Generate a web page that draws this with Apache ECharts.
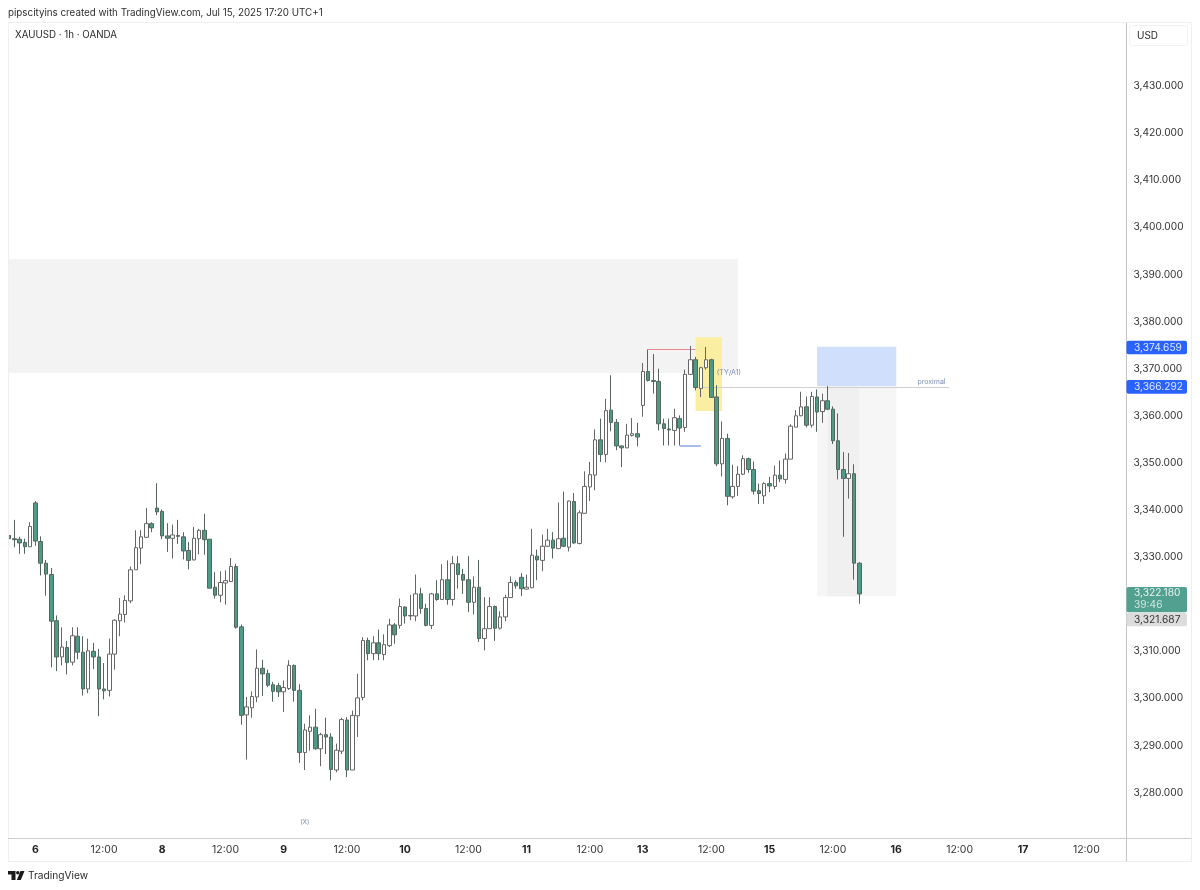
<!DOCTYPE html>
<html>
<head>
<meta charset="utf-8">
<title>XAUUSD 1h</title>
<script src="https://cdn.jsdelivr.net/npm/echarts@6/dist/echarts.min.js"></script>
<style>
  html, body { margin: 0; padding: 0; background: #fff; }
  #chart { width: 1200px; height: 890px; }
</style>
</head>
<body>
<div id="chart"></div>
<script>
// 1h candles, oldest first
const opens = [
  3334.6, 3333.9, 3333.8, 3333.1, 3332.2, 3341.5, 3333.3, 3328.7, 3326.3, 3316.5,
  3308.8, 3310.8, 3307.7, 3313.2, 3309.8, 3302.0, 3310.0, 3308.8, 3302.0, 3301.7,
  3309.4, 3316.5, 3317.8, 3320.7, 3327.3, 3331.9, 3334.2, 3337.1, 3340.4, 3339.7,
  3334.5, 3334.0, 3334.6, 3334.3, 3331.4, 3329.4, 3333.9, 3335.7, 3333.8, 3323.6,
  3321.9, 3324.5, 3324.8, 3328.0, 3315.2, 3296.5, 3298.0, 3300.3, 3306.4, 3305.3,
  3302.9, 3302.7, 3301.4, 3302.1, 3307.0, 3301.7, 3288.5, 3293.0, 3293.9, 3289.3,
  3292.3, 3291.8, 3284.8, 3288.8, 3295.4, 3284.8, 3296.3, 3300.2, 3312.3, 3309.5,
  3311.8, 3309.3, 3311.2, 3315.6, 3315.5, 3319.4, 3317.5, 3317.5, 3322.2, 3319.1,
  3315.5, 3322.2, 3321.0, 3325.2, 3321.0, 3328.6, 3326.3, 3325.2, 3320.4, 3323.6,
  3312.7, 3314.8, 3319.5, 3314.9, 3317.3, 3321.4, 3324.6, 3325.7, 3323.2, 3323.5,
  3330.2, 3329.3, 3332.3, 3333.6, 3331.8, 3334.0, 3332.1, 3341.8, 3332.9, 3339.3,
  3344.9, 3347.4, 3354.9, 3351.8, 3361.2, 3358.6, 3353.6, 3353.2, 3355.8, 3356.2,
  3362.2, 3369.4, 3367.5, 3367.3, 3358.3, 3357.2, 3356.9, 3359.4, 3357.5, 3368.8,
  3371.9, 3365.8, 3370.2, 3371.9, 3364.0, 3349.8, 3355.2, 3342.8, 3345.0, 3347.6,
  3350.9, 3348.6, 3344.1, 3343.0, 3345.6, 3345.0, 3347.4, 3346.5, 3350.8, 3357.6,
  3360.0, 3361.9, 3358.0, 3364.0, 3360.9, 3363.2, 3361.4, 3354.7, 3348.6, 3346.7,
  3347.7, 3328.7
];
const closes = [
  3333.9, 3333.7, 3333.0, 3332.2, 3336.5, 3333.4, 3328.7, 3326.4, 3316.4, 3308.8,
  3310.9, 3307.6, 3313.3, 3309.8, 3302.0, 3310.1, 3308.8, 3302.0, 3301.6, 3309.4,
  3316.6, 3317.9, 3320.8, 3327.3, 3332.0, 3334.3, 3337.1, 3336.2, 3339.6, 3334.5,
  3334.0, 3334.7, 3334.4, 3331.3, 3329.3, 3334.0, 3335.7, 3333.7, 3323.4, 3321.9,
  3324.6, 3325.0, 3328.0, 3315.1, 3296.4, 3298.2, 3300.4, 3306.4, 3305.2, 3302.8,
  3301.5, 3301.4, 3302.3, 3307.0, 3301.7, 3288.5, 3293.3, 3293.9, 3289.3, 3292.3,
  3291.8, 3284.9, 3289.0, 3295.5, 3284.8, 3296.4, 3300.1, 3312.3, 3309.5, 3311.8,
  3309.5, 3311.4, 3315.6, 3313.5, 3319.5, 3317.5, 3317.6, 3322.2, 3319.1, 3315.5,
  3322.2, 3321.0, 3325.2, 3321.0, 3328.6, 3326.3, 3325.1, 3320.4, 3323.6, 3312.7,
  3314.8, 3319.5, 3314.9, 3317.3, 3321.4, 3324.6, 3323.9, 3323.3, 3323.6, 3330.4,
  3329.4, 3332.3, 3333.6, 3331.9, 3333.9, 3332.3, 3341.9, 3333.0, 3339.4, 3345.0,
  3347.5, 3354.9, 3351.8, 3361.1, 3358.6, 3353.6, 3353.2, 3355.9, 3356.2, 3355.5,
  3369.4, 3367.5, 3367.3, 3358.3, 3357.3, 3357.0, 3359.6, 3357.4, 3368.8, 3371.9,
  3366.0, 3370.2, 3371.9, 3363.9, 3349.8, 3355.2, 3342.9, 3345.0, 3347.6, 3350.9,
  3348.6, 3344.0, 3343.5, 3345.6, 3345.1, 3347.4, 3346.6, 3350.8, 3357.8, 3360.0,
  3361.9, 3358.0, 3364.1, 3360.8, 3363.2, 3361.4, 3354.7, 3348.6, 3346.7, 3347.7,
  3328.7, 3322.18
];
const lows = [
  3333.6, 3332.1, 3330.7, 3330.7, 3332.2, 3332.4, 3326.1, 3321.8, 3306.6, 3305.8,
  3307.0, 3305.1, 3307.0, 3308.3, 3300.6, 3301.1, 3306.2, 3296.2, 3299.8, 3300.4,
  3306.1, 3313.2, 3316.1, 3320.2, 3327.3, 3328.5, 3334.1, 3335.3, 3338.9, 3333.8,
  3331.1, 3329.7, 3332.8, 3329.5, 3327.4, 3329.3, 3330.6, 3330.5, 3323.4, 3321.2,
  3320.4, 3319.9, 3324.7, 3314.8, 3294.4, 3287.0, 3295.9, 3299.2, 3300.5, 3302.4,
  3299.3, 3300.3, 3297.1, 3301.8, 3299.3, 3286.3, 3284.8, 3288.9, 3289.1, 3285.6,
  3288.2, 3282.6, 3284.3, 3288.2, 3283.3, 3284.8, 3291.8, 3299.6, 3308.1, 3308.1,
  3308.1, 3308.1, 3310.9, 3311.6, 3314.8, 3315.9, 3316.6, 3316.4, 3318.0, 3315.3,
  3314.7, 3320.7, 3321.0, 3319.9, 3319.7, 3323.3, 3322.2, 3318.3, 3317.8, 3312.0,
  3310.2, 3314.8, 3312.2, 3314.6, 3316.4, 3321.3, 3323.3, 3321.7, 3323.1, 3323.4,
  3325.1, 3327.0, 3332.1, 3329.7, 3331.8, 3332.1, 3331.2, 3332.8, 3332.7, 3339.3,
  3341.9, 3344.2, 3350.2, 3350.1, 3356.7, 3352.7, 3349.1, 3353.1, 3355.6, 3353.5,
  3359.8, 3367.3, 3364.7, 3356.9, 3353.7, 3353.7, 3353.7, 3353.7, 3356.6, 3368.7,
  3365.4, 3364.0, 3369.8, 3363.8, 3349.3, 3347.1, 3341.0, 3342.4, 3343.0, 3347.4,
  3347.9, 3343.3, 3341.3, 3341.3, 3343.8, 3344.4, 3345.9, 3345.6, 3350.8, 3357.6,
  3359.9, 3357.5, 3357.5, 3356.6, 3358.5, 3361.2, 3354.0, 3346.5, 3334.3, 3342.4,
  3325.2, 3320.1
];
const highs = [
  3334.7, 3337.9, 3334.3, 3333.9, 3337.4, 3341.9, 3334.4, 3329.4, 3327.7, 3317.6,
  3315.1, 3312.2, 3315.1, 3315.1, 3313.2, 3312.7, 3311.8, 3310.5, 3307.5, 3312.7,
  3316.8, 3321.3, 3321.9, 3328.0, 3335.7, 3335.7, 3340.4, 3337.4, 3345.7, 3340.1,
  3337.2, 3336.9, 3337.9, 3335.3, 3333.2, 3336.4, 3336.0, 3339.2, 3333.8, 3326.8,
  3327.0, 3327.2, 3329.8, 3328.6, 3315.7, 3300.3, 3301.5, 3310.4, 3308.2, 3306.1,
  3303.5, 3303.3, 3303.8, 3308.1, 3307.2, 3303.0, 3294.6, 3296.4, 3297.8, 3292.7,
  3295.9, 3292.6, 3290.4, 3295.9, 3296.0, 3297.4, 3305.2, 3313.0, 3312.9, 3313.2,
  3314.6, 3313.6, 3316.9, 3316.0, 3321.2, 3319.5, 3322.0, 3326.3, 3323.5, 3320.1,
  3322.4, 3325.1, 3328.5, 3329.3, 3330.2, 3330.2, 3327.5, 3330.2, 3325.9, 3329.4,
  3321.5, 3321.5, 3319.7, 3318.5, 3322.0, 3325.9, 3325.1, 3326.6, 3326.3, 3336.0,
  3331.6, 3334.8, 3336.0, 3335.3, 3341.6, 3343.9, 3342.0, 3343.6, 3339.9, 3348.2,
  3350.2, 3357.1, 3359.4, 3363.6, 3368.6, 3359.3, 3353.7, 3358.3, 3359.5, 3358.5,
  3371.2, 3374.1, 3373.1, 3370.0, 3359.4, 3359.4, 3361.5, 3360.1, 3369.8, 3374.8,
  3372.5, 3370.4, 3374.6, 3372.1, 3366.5, 3358.8, 3356.2, 3349.6, 3349.3, 3351.6,
  3351.1, 3350.3, 3345.6, 3345.9, 3347.0, 3349.4, 3350.5, 3352.0, 3358.2, 3361.2,
  3365.1, 3364.1, 3365.1, 3365.6, 3364.7, 3366.3, 3362.0, 3360.5, 3352.3, 3352.1,
  3349.7, 3328.9
];

// bottom scale: slot index of each label
const timeSlots = [5, 18, 29, 41, 52, 64, 75, 87, 98, 110, 120, 133, 144, 156, 168, 180, 192, 204];
const timeLabels = ['6', '12:00', '8', '12:00', '9', '12:00', '10', '12:00', '11', '12:00', '13', '12:00', '15', '12:00', '16', '12:00', '17', '12:00'];
const slotCount = 212;

const priceTicks = [3280, 3290, 3300, 3310, 3320, 3330, 3340, 3350, 3360, 3370, 3380, 3390, 3400, 3410, 3420, 3430];

// drawings on the chart
const supplyZone = [3393.3, 3369.1, 138];
const yellowBox = [130, 135, 3376.7, 3361.0];
const blueBox = [153, 168, 3374.659, 3366.292];
const stopBox = [153, 168, 3366.292, 3321.687];
const stopBoxInner = [155, 161, 3366.292, 3321.687];
const redLine = [121, 130, 3374.1];
const blueLine = [127, 131, 3353.6];
const proximalLine = [130, 178, 3366.1];
const notes = [
  ['(TY/A1)', 134, 3369.2],
  ['proximal', 172, 3367.2],
  ['(X)', 56, 3273.8]
];

const priceTags = [
  { value: 3374.659, text: '3,374.659', bg: '#2962ff', color: '#dfe8ff' },
  { value: 3366.292, text: '3,366.292', bg: '#2962ff', color: '#dfe8ff' }
];
const lastPrice = 3322.18;
const countdown = '39:46';
const bidPrice = 3321.687;

const uiFont = 'Inter, "Liberation Sans", sans-serif';
const green = '#4f9a87';

const xData = [];
for (let i = 0; i < slotCount; i++) {
  const k = timeSlots.indexOf(i);
  xData.push(k >= 0 ? timeLabels[k] : '');
}
const candles = opens.map((o, i) => [o, closes[i], lows[i], highs[i]]);

function fmtPrice(v) {
  return v.toLocaleString('en-US', { minimumFractionDigits: 3, maximumFractionDigits: 3 });
}

function hLine(seg, color, width) {
  return [
    { xAxis: seg[0], yAxis: seg[2], lineStyle: { color: color, width: width || 1, type: 'solid' } },
    { xAxis: seg[1], yAxis: seg[2] }
  ];
}

function box(b, color) {
  return [
    { xAxis: b[0], yAxis: b[2], itemStyle: { color: color } },
    { xAxis: b[1], yAxis: b[3] }
  ];
}

const chart = echarts.init(document.getElementById('chart'), null, { renderer: 'canvas' });

chart.setOption({
  animation: false,
  backgroundColor: '#fff',
  title: [
    {
      text: 'pipscityins created with TradingView.com, Jul 15, 2025 17:20 UTC+1',
      left: 8, top: 8, padding: 0,
      textStyle: { fontFamily: uiFont, fontSize: 9.8, fontWeight: 'normal', color: '#2e2e2e' }
    },
    {
      text: 'XAUUSD · 1h · OANDA',
      left: 15, top: 30, padding: 0,
      textStyle: { fontFamily: uiFont, fontSize: 9.75, fontWeight: 'normal', color: '#2a2a2a' }
    },
    {
      text: 'TradingView',
      left: 28, top: 871, padding: 0,
      textStyle: { fontFamily: uiFont, fontSize: 10.2, fontWeight: 'normal', color: '#2a2a2a' }
    }
  ],
  grid: { left: 6.36, right: 74, top: 22.5, bottom: 52 },
  xAxis: {
    type: 'category',
    data: xData,
    boundaryGap: true,
    axisLine: { lineStyle: { color: '#cccccc' } },
    axisTick: { show: false },
    splitLine: { show: false },
    axisLabel: {
      interval: (i, v) => v !== '',
      hideOverlap: false,
      margin: 6,
      color: '#333',
      fontFamily: uiFont,
      fontSize: 10.5,
      formatter: v => (v.indexOf(':') >= 0 ? v : '{d|' + v + '}'),
      rich: { d: { fontFamily: uiFont, fontSize: 10.5, fontWeight: 'bold', color: '#222' } }
    }
  },
  yAxis: {
    type: 'value',
    position: 'right',
    min: 3270.36,
    max: 3443.5,
    scale: true,
    axisLine: { show: true, lineStyle: { color: '#c4c4c4' } },
    axisTick: { show: false },
    splitLine: { show: false },
    axisLabel: {
      customValues: priceTicks,
      margin: 7.5,
      color: '#333',
      fontFamily: uiFont,
      fontSize: 10.2,
      formatter: v => fmtPrice(v)
    }
  },
  series: [
    {
      type: 'candlestick',
      data: candles,
      barWidth: 4,
      clip: true,
      itemStyle: {
        color: '#ffffff',
        color0: green,
        borderColor: '#666666',
        borderColor0: '#55665f',
        borderColorDoji: '#444444',
        borderWidth: 1
      },
      markArea: {
        silent: true,
        z: 1,
        label: { show: false },
        emphasis: { disabled: true },
        data: [
          [
            { yAxis: supplyZone[0], itemStyle: { color: '#f3f3f3' } },
            { xAxis: supplyZone[2], yAxis: supplyZone[1] }
          ],
          box(yellowBox, '#faeea3'),
          box(blueBox, '#d0dffb'),
          box(stopBox, '#f6f6f6'),
          box(stopBoxInner, '#f0f0f0')
        ]
      },
      markLine: {
        silent: true,
        z: 1,
        symbol: 'none',
        label: { show: false },
        emphasis: { disabled: true },
        data: [
          hLine(redLine, '#e88a94'),
          hLine(blueLine, '#8ba6e4', 1.5),
          hLine(proximalLine, '#cfcfcf')
        ]
      },
      markPoint: {
        silent: true,
        symbol: 'circle',
        symbolSize: 0,
        data: notes.map(n => ({
          name: n[0],
          coord: [n[1], n[2]],
          label: {
            show: true,
            formatter: n[0],
            position: n[0] === '(X)' ? 'inside' : 'right',
            distance: 0,
            color: '#7d8fb3',
            fontFamily: uiFont,
            fontSize: n[0] === '(X)' ? 6.5 : 7
          }
        }))
      }
    }
  ]
});

// frame, scale tags and the logo go on top of the plot
const py = v => chart.convertToPixel({ yAxisIndex: 0 }, v);

function frameLine(x1, y1, x2, y2, color) {
  return { type: 'line', silent: true, z: 20, shape: { x1, y1, x2, y2 }, style: { stroke: color, lineWidth: 1 } };
}

function tag(y, h, bg, z) {
  return { type: 'rect', silent: true, z: z, shape: { x: 1126.5, y: y, width: 60.5, height: h, r: 2 }, style: { fill: bg } };
}

function tagText(text, cy, color, x, size) {
  return {
    type: 'text', silent: true, z: 32, x: x || 1134, y: cy,
    style: { text: text, fill: color, font: (size || 10.2) + 'px ' + uiFont, textVerticalAlign: 'middle' }
  };
}

const gfx = [
  { type: 'rect', silent: true, z: 19, shape: { x: 0, y: 22, width: 8, height: 820 }, style: { fill: '#fff' } },
  frameLine(8, 22.5, 1191.5, 22.5, '#efefef'),
  frameLine(8.5, 22.5, 8.5, 861.5, '#efefef'),
  frameLine(1191.5, 22.5, 1191.5, 861.5, '#efefef'),
  frameLine(8, 861.5, 1191.5, 861.5, '#efefef'),
  frameLine(8, 838.5, 1191.5, 838.5, '#cccccc'),
  frameLine(1126.5, 838, 1126.5, 861.5, '#c4c4c4'),
  { type: 'rect', silent: true, z: 30, shape: { x: 1129.5, y: 25.5, width: 58, height: 20, r: 3 }, style: { fill: '#fff', stroke: '#f2f2f2' } },
  tagText('USD', 35.5, '#2a2a2a', 1137, 10)
];

priceTags.forEach(t => {
  const y = py(t.value) + 0.7;
  gfx.push(tag(y - 6.8, 13.6, t.bg, 30), tagText(t.text, y, t.color));
});

const lastTop = py(lastPrice) - 7;
gfx.push(
  tag(lastTop, 25.4, '#52a08f', 30),
  tagText(fmtPrice(lastPrice), lastTop + 6.5, '#e6f3f0'),
  tagText(countdown, lastTop + 18.5, '#cfe6e0'),
  tag(lastTop + 26, 13.4, '#dcdcdc', 30),
  tagText(fmtPrice(bidPrice), lastTop + 32.8, '#333')
);

// logo
gfx.push(
  { type: 'polygon', silent: true, z: 30, shape: { points: [[8, 871], [15.5, 871], [15.5, 880], [11.5, 880], [11.5, 874.5], [8, 874.5]] }, style: { fill: '#1a1a1a' } },
  { type: 'circle', silent: true, z: 30, shape: { cx: 17.8, cy: 872.8, r: 1.8 }, style: { fill: '#1a1a1a' } },
  { type: 'polygon', silent: true, z: 30, shape: { points: [[20.5, 871], [24.5, 871], [20.8, 880], [16.8, 880]] }, style: { fill: '#1a1a1a' } }
);

chart.setOption({ graphic: gfx });
</script>
</body>
</html>
